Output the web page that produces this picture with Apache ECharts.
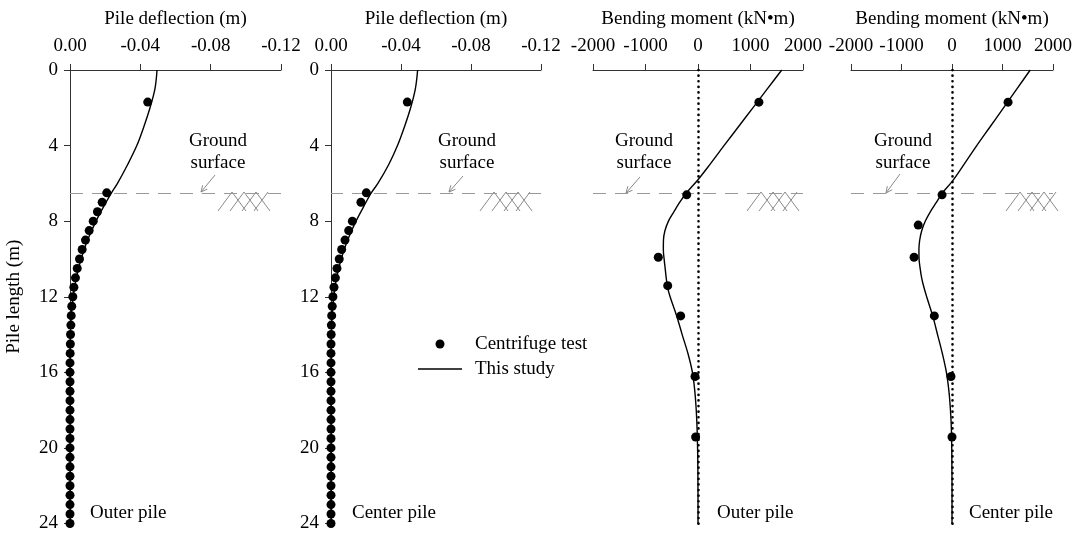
<!DOCTYPE html>
<html><head><meta charset="utf-8">
<script src="https://cdn.jsdelivr.net/npm/echarts@6/dist/echarts.min.js"></script>
<style>html,body{margin:0;padding:0;background:#fff}#c{width:1075px;height:533px}</style>
</head><body><div id="c"></div>
<script>
// ---------------- DATA ----------------
const deflTicks = [0, -0.04, -0.08, -0.12];
const momentTicks = [-2000, -1000, 0, 1000, 2000];
const depthTicks = [0, 4, 8, 12, 16, 20, 24];
const groundDepth = 6.5;

const panelTitles = ['Pile deflection (m)', 'Pile deflection (m)', 'Bending moment (kN\u2022m)', 'Bending moment (kN\u2022m)'];
const pileLabels = ['Outer pile', 'Center pile', 'Outer pile', 'Center pile'];
const yAxisTitle = 'Pile length (m)';
const legendNames = ['Centrifuge test', 'This study'];
const groundText = 'Ground\nsurface';

// Outer pile deflection - centrifuge test
const outerDeflTestDepth = [1.7, 6.5, 7.0, 7.5, 8.0, 8.5, 9.0, 9.5, 10.0, 10.5, 11.0, 11.5, 12.0, 12.5, 13.0, 13.5, 14.0, 14.5, 15.0, 15.5, 16.0, 16.5, 17.0, 17.5, 18.0, 18.5, 19.0, 19.5, 20.0, 20.5, 21.0, 21.5, 22.0, 22.5, 23.0, 23.5, 24.0];
const outerDeflTestValue = [-0.0442, -0.0209, -0.0183, -0.0156, -0.0132, -0.0109, -0.0088, -0.0069, -0.0054, -0.0041, -0.0031, -0.0022, -0.0016, -0.0010, -0.0007, -0.0005, -0.0003, -0.0002, -0.0001, 0, 0, 0, 0, 0, 0, 0, 0, 0, 0, 0, 0, 0, 0, 0, 0, 0, 0];
// Outer pile deflection - this study
const outerDeflCurveDepth = [0, 1, 2, 3, 4, 5, 6, 6.5, 7, 8, 9, 10, 11, 12, 13, 14, 15, 16, 18, 20, 22, 24];
const outerDeflCurveValue = [-0.0495, -0.0483, -0.0455, -0.0420, -0.0380, -0.0328, -0.0270, -0.0236, -0.0205, -0.0148, -0.0100, -0.0063, -0.0036, -0.0018, -0.0007, -0.0002, 0, 0, 0, 0, 0, 0];

// Center pile deflection - centrifuge test
const centerDeflTestDepth = [1.7, 6.5, 7.0, 8.0, 8.5, 9.0, 9.5, 10.0, 10.5, 11.0, 11.5, 12.0, 12.5, 13.0, 13.5, 14.0, 14.5, 15.0, 15.5, 16.0, 16.5, 17.0, 17.5, 18.0, 18.5, 19.0, 19.5, 20.0, 20.5, 21.0, 21.5, 22.0, 22.5, 23.0, 23.5, 24.0];
const centerDeflTestValue = [-0.0436, -0.0202, -0.0171, -0.0122, -0.0101, -0.0080, -0.0061, -0.0047, -0.0034, -0.0025, -0.0017, -0.0011, -0.0007, -0.0004, -0.0002, -0.0001, 0, 0, 0, 0, 0, 0, 0, 0, 0, 0, 0, 0, 0, 0, 0, 0, 0, 0, 0, 0];
// Center pile deflection - this study
const centerDeflCurveDepth = [0, 1, 2, 3, 4, 5, 6, 6.5, 7, 8, 9, 10, 11, 12, 13, 14, 15, 16, 18, 20, 22, 24];
const centerDeflCurveValue = [-0.0495, -0.0482, -0.0455, -0.0420, -0.0380, -0.0330, -0.0268, -0.0230, -0.0200, -0.0143, -0.0095, -0.0058, -0.0032, -0.0016, -0.0006, -0.0002, 0, 0, 0, 0, 0, 0];

// Outer pile bending moment
const outerMomTestDepth = [1.7, 6.6, 9.9, 11.4, 13.0, 16.2, 19.4];
const outerMomTestValue = [1160, -215, -756, -577, -330, -57, -45];
const outerMomCurveDepth = [0, 1, 2, 3, 4, 5, 5.8, 6.5, 7, 7.5, 8, 8.5, 9, 9.5, 10, 10.5, 11, 11.5, 12, 13, 14, 15, 16, 17, 18, 19, 20, 21, 22, 23, 24];
const outerMomCurveValue = [1595, 1320, 1045, 770, 495, 225, 0, -220, -350, -460, -565, -630, -658, -660, -645, -625, -605, -578, -530, -406, -300, -190, -105, -60, -33, -17, -8, -3, -1, 0, 0];

// Center pile bending moment
const centerMomTestDepth = [1.7, 6.6, 8.2, 9.9, 13.0, 16.2, 19.4];
const centerMomTestValue = [1110, -197, -669, -751, -350, -20, 0];
const centerMomCurveDepth = [0, 1, 2, 3, 4, 5, 5.9, 6.5, 7, 7.5, 8, 8.5, 9, 9.5, 10, 10.5, 11, 11.5, 12, 13, 14, 15, 16, 17, 18, 19, 20, 21, 22, 23, 24];
const centerMomCurveValue = [1549, 1285, 1020, 755, 490, 235, 0, -190, -310, -430, -530, -600, -640, -655, -652, -630, -600, -555, -500, -382, -285, -190, -110, -60, -30, -12, -5, -2, 0, 0, 0];

// ---------------- CHART ----------------
const FONT = '"Liberation Serif", "Times New Roman", serif';
const FS = 19;
const AXIS_COLOR = '#333';

const pairs = (vals, depths) => vals.map((v, i) => [v, depths[i]]);
const panels = [
  { test: pairs(outerDeflTestValue, outerDeflTestDepth), curve: pairs(outerDeflCurveValue, outerDeflCurveDepth), kind: 'defl' },
  { test: pairs(centerDeflTestValue, centerDeflTestDepth), curve: pairs(centerDeflCurveValue, centerDeflCurveDepth), kind: 'defl' },
  { test: pairs(outerMomTestValue, outerMomTestDepth), curve: pairs(outerMomCurveValue, outerMomCurveDepth), kind: 'mom' },
  { test: pairs(centerMomTestValue, centerMomTestDepth), curve: pairs(centerMomCurveValue, centerMomCurveDepth), kind: 'mom' }
];

const layout = {
  grids: [
    { left: 70, top: 70, width: 211, height: 454 },
    { left: 331, top: 70, width: 210, height: 454 },
    { left: 593, top: 70, width: 210, height: 454 },
    { left: 851, top: 70, width: 209, height: 454 }
  ],
  groundTextX: [218, 467, 644, 903],
  arrowStart: [[215, 175], [463, 176], [640, 177], [900, 174]],
  arrowEnd: [[201, 192], [449, 192], [626, 193], [886, 193]],
  hatchX: [218, 480, 747, 1006],
  pileLabelX: [90, 352, 717, 969],
  legendDot: [440, 344],
  legendLine: [418, 462, 369],
  legendTextX: 475
};

const textStyleBase = { fontFamily: FONT, fontSize: FS, color: '#000' };

const xAxes = panels.map((p, i) => {
  const isDefl = p.kind === 'defl';
  const ticks = isDefl ? deflTicks : momentTicks;
  return {
    gridIndex: i, type: 'value', position: 'top',
    inverse: isDefl,
    min: Math.min(...ticks), max: Math.max(...ticks),
    interval: isDefl ? 0.04 : 1000,
    name: panelTitles[i], nameLocation: 'middle', nameGap: 41,
    nameTextStyle: textStyleBase,
    axisLine: { show: true, onZero: false, lineStyle: { color: AXIS_COLOR, width: 1 } },
    axisTick: { show: true, length: 6, inside: false, lineStyle: { color: AXIS_COLOR } },
    axisLabel: Object.assign({ margin: 14,
      formatter: v => isDefl ? (Math.abs(v) < 1e-9 ? '0.00' : v.toFixed(2)) : String(Math.round(v)) }, textStyleBase),
    splitLine: { show: false }
  };
});

const yAxes = panels.map((p, i) => {
  const show = i < 2;
  return {
    gridIndex: i, type: 'value', inverse: true,
    min: depthTicks[0], max: depthTicks[depthTicks.length - 1], interval: depthTicks[1] - depthTicks[0],
    name: i === 0 ? yAxisTitle : '', nameLocation: 'middle', nameGap: 46, nameRotate: 90,
    nameTextStyle: textStyleBase,
    axisLine: { show: show, onZero: false, lineStyle: { color: AXIS_COLOR, width: 1 } },
    axisTick: { show: show, length: 6, lineStyle: { color: AXIS_COLOR } },
    axisLabel: Object.assign({ show: show, margin: 12 }, textStyleBase),
    splitLine: { show: false }
  };
});

const series = [];
panels.forEach((p, i) => {
  const mlData = [{ yAxis: groundDepth, lineStyle: { color: '#9a9a9a', width: 1, type: [13, 9] } }];
  if (p.kind === 'mom') {
    mlData.push({ xAxis: 0, lineStyle: { color: '#000', width: 2.6, type: [0.1, 5.5], cap: 'round' } });
  }
  series.push({
    name: legendNames[1], type: 'line', xAxisIndex: i, yAxisIndex: i,
    data: p.curve, smooth: 0.35, symbol: 'none', showSymbol: false,
    lineStyle: { color: '#000', width: 1.4 }, itemStyle: { color: '#000' },
    z: 3, animation: false,
    markLine: { silent: true, symbol: ['none', 'none'], label: { show: false }, animation: false, data: mlData }
  });
  series.push({
    name: legendNames[0], type: 'scatter', xAxisIndex: i, yAxisIndex: i,
    data: p.test, symbol: 'circle', symbolSize: 9,
    itemStyle: { color: '#000', opacity: 1 }, z: 5, animation: false
  });
});

// annotations
const graphics = [];
const ANN = '#8a8a8a';
const txt = (x, y, text, align) => ({ type: 'text', x: x, y: y, silent: true,
  style: { text: text, font: FS + 'px ' + FONT, fill: '#000', align: align, verticalAlign: 'middle', textAlign: align, textVerticalAlign: 'middle', lineHeight: 22 } });
panels.forEach((p, i) => {
  graphics.push(txt(layout.groundTextX[i], 152, groundText, 'center'));
  const [sx, sy] = layout.arrowStart[i], [ex, ey] = layout.arrowEnd[i];
  graphics.push({ type: 'line', silent: true, shape: { x1: sx, y1: sy, x2: ex, y2: ey }, style: { stroke: ANN, lineWidth: 1 } });
  const ang = Math.atan2(sy - ey, sx - ex), L = 7, spread = 0.45;
  graphics.push({ type: 'polyline', silent: true,
    shape: { points: [[ex + L * Math.cos(ang + spread), ey + L * Math.sin(ang + spread)], [ex, ey], [ex + L * Math.cos(ang - spread), ey + L * Math.sin(ang - spread)]] },
    style: { stroke: ANN, lineWidth: 1, fill: null } });
  const x0 = layout.hatchX[i], top = 192, bot = 211, w = 12, s = 14;
  for (let k = 0; k < 4; k++) {
    graphics.push({ type: 'line', silent: true, shape: { x1: x0 + k * w, y1: bot, x2: x0 + k * w + s, y2: top }, style: { stroke: ANN, lineWidth: 1 } });
  }
  for (let k = 0; k < 3; k++) {
    graphics.push({ type: 'line', silent: true, shape: { x1: x0 + s + k * w, y1: top, x2: x0 + 2 * s + k * w, y2: bot }, style: { stroke: ANN, lineWidth: 1 } });
  }
  graphics.push(txt(layout.pileLabelX[i], 513, pileLabels[i], 'left'));
});
// legend (drawn as graphic for exact placement)
graphics.push({ type: 'circle', silent: true, shape: { cx: layout.legendDot[0], cy: layout.legendDot[1], r: 4.5 }, style: { fill: '#000' } });
graphics.push(txt(layout.legendTextX, layout.legendDot[1], legendNames[0], 'left'));
graphics.push({ type: 'line', silent: true, shape: { x1: layout.legendLine[0], y1: layout.legendLine[2], x2: layout.legendLine[1], y2: layout.legendLine[2] }, style: { stroke: '#000', lineWidth: 1.4 } });
graphics.push(txt(layout.legendTextX, layout.legendLine[2], legendNames[1], 'left'));

const chart = echarts.init(document.getElementById('c'), null, { renderer: 'canvas' });
chart.setOption({
  backgroundColor: '#fff',
  animation: false,
  grid: layout.grids.map(g => Object.assign({ containLabel: false }, g)),
  xAxis: xAxes,
  yAxis: yAxes,
  series: series,
  graphic: graphics
});
</script>
</body></html>
